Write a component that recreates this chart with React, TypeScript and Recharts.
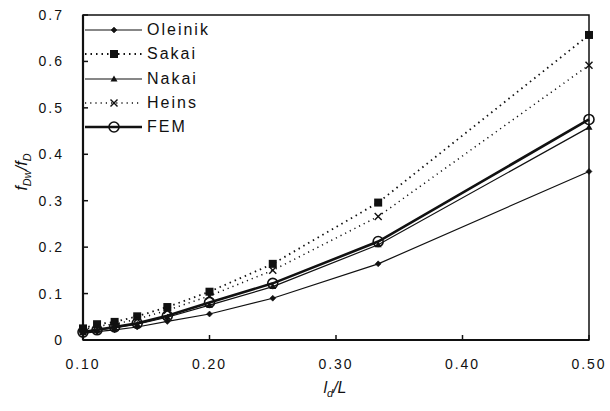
import React from 'react';
import { LineChart, Line, XAxis, YAxis, ReferenceArea, Legend } from 'recharts';

const ratios = [0.1, 1 / 9, 0.125, 1 / 7, 1 / 6, 0.2, 0.25, 1 / 3, 0.5];
const oleinik = [0.014, 0.018, 0.022, 0.028, 0.04, 0.056, 0.09, 0.164, 0.363];
const sakai = [0.025, 0.034, 0.039, 0.051, 0.071, 0.104, 0.164, 0.296, 0.657];
const nakai = [0.016, 0.021, 0.026, 0.034, 0.049, 0.075, 0.115, 0.205, 0.458];
const heins = [0.022, 0.03, 0.034, 0.045, 0.064, 0.095, 0.15, 0.266, 0.592];
const fem = [0.017, 0.022, 0.028, 0.036, 0.052, 0.081, 0.122, 0.212, 0.475];

const xTicks = [0.1, 0.2, 0.3, 0.4, 0.5];
const yTicks = [0, 0.1, 0.2, 0.3, 0.4, 0.5, 0.6, 0.7];

const data = ratios.map((x, i) => ({
  x,
  oleinik: oleinik[i],
  sakai: sakai[i],
  nakai: nakai[i],
  heins: heins[i],
  fem: fem[i],
}));

const INK = '#111';
const FONT = '"Liberation Sans", Arial, sans-serif';

type Shape = 'diamond' | 'square' | 'triangle' | 'cross' | 'circle';

function marker(shape: Shape, cx: number, cy: number, key?: string) {
  switch (shape) {
    case 'diamond':
      return <path key={key} d={`M${cx},${cy - 3} L${cx + 3},${cy} L${cx},${cy + 3} L${cx - 3},${cy} Z`} fill={INK} stroke={INK} strokeWidth={0.5} />;
    case 'square':
      return <rect key={key} x={cx - 4} y={cy - 4} width={8} height={8} fill={INK} />;
    case 'triangle':
      return <path key={key} d={`M${cx},${cy - 3.5} L${cx + 3.5},${cy + 2.5} L${cx - 3.5},${cy + 2.5} Z`} fill={INK} />;
    case 'cross':
      return (
        <g key={key}>
          <line x1={cx - 3.5} y1={cy - 3.5} x2={cx + 3.5} y2={cy + 3.5} stroke={INK} strokeWidth={1.4} />
          <line x1={cx - 3.5} y1={cy + 3.5} x2={cx + 3.5} y2={cy - 3.5} stroke={INK} strokeWidth={1.4} />
        </g>
      );
    case 'circle':
      return <circle key={key} cx={cx} cy={cy} r={5} fill="none" stroke={INK} strokeWidth={1.6} />;
  }
}

const series = [
  { key: 'oleinik', name: 'Oleinik', shape: 'diamond' as Shape, width: 1.2, dash: undefined as string | undefined },
  { key: 'sakai', name: 'Sakai', shape: 'square' as Shape, width: 1.8, dash: '1.5 4' },
  { key: 'nakai', name: 'Nakai', shape: 'triangle' as Shape, width: 1.2, dash: undefined },
  { key: 'heins', name: 'Heins', shape: 'cross' as Shape, width: 1.5, dash: '1.2 4' },
  { key: 'fem', name: 'FEM', shape: 'circle' as Shape, width: 2.6, dash: undefined },
];

const makeDot = (shape: Shape, name: string) => (props: any) => {
  const { cx, cy, index } = props;
  if (cx == null || cy == null) return <g key={`${name}-${index}`} />;
  return marker(shape, cx, cy, `${name}-${index}`);
};

const XTick = (props: any) => {
  const { x, y, payload } = props;
  const axisY = y - 8;
  return (
    <g>
      <line x1={x} y1={axisY} x2={x} y2={axisY - 5} stroke={INK} strokeWidth={1.5} />
      <text x={x} y={axisY + 29} textAnchor="middle" fontSize={14} letterSpacing={2} fill={INK} fontFamily={FONT}>
        {Number(payload.value).toFixed(2)}
      </text>
    </g>
  );
};

const YTick = (props: any) => {
  const { x, y, payload } = props;
  const axisX = x + 8;
  const v = Number(payload.value);
  return (
    <g>
      <line x1={axisX} y1={y} x2={axisX + 5} y2={y} stroke={INK} strokeWidth={1.5} />
      <text x={axisX - 19} y={y + 5} textAnchor="end" fontSize={14} letterSpacing={2} fill={INK} fontFamily={FONT}>
        {v === 0 ? '0' : v.toFixed(1)}
      </text>
    </g>
  );
};

const LegendContent = () => (
  <div style={{ fontFamily: FONT }}>
    {series.map((s) => (
      <div key={s.key} style={{ display: 'flex', alignItems: 'center', height: 24.3 }}>
        <svg width={58} height={20} style={{ display: 'block' }}>
          <line x1={0} y1={10} x2={57} y2={10} stroke={INK} strokeWidth={s.width} strokeDasharray={s.dash} />
          {marker(s.shape, 29, 10)}
        </svg>
        <span style={{ marginLeft: 4, fontSize: 16, letterSpacing: 2, color: INK, lineHeight: '20px' }}>{s.name}</span>
      </div>
    ))}
  </div>
);

const YLabel = () => (
  <text x={0} y={0} transform="translate(27,172) rotate(-90)" textAnchor="middle" fontSize={16} fontStyle="italic" fill={INK} fontFamily={FONT}>
    <tspan>f</tspan>
    <tspan fontSize={11} dy={4}>Dw</tspan>
    <tspan dy={-4}>/f</tspan>
    <tspan fontSize={11} dy={4}>D</tspan>
  </text>
);

const XLabel = () => (
  <text x={335} y={393} textAnchor="middle" fontSize={16} fontStyle="italic" fill={INK} fontFamily={FONT}>
    <tspan>l</tspan>
    <tspan fontSize={11} dy={4}>d</tspan>
    <tspan dy={-4}>/L</tspan>
  </text>
);

export default function App() {
  return (
    <div style={{ position: 'absolute', left: 0, top: 0, width: 610, height: 411, background: '#fff' }}>
      <LineChart width={610} height={411} data={data} margin={{ top: 15, right: 21, left: 0, bottom: 0 }}>
        <ReferenceArea x1={0.1} x2={0.5} y1={0} y2={0.7} fill="none" stroke={INK} strokeWidth={1.5} />
        <XAxis
          dataKey="x"
          type="number"
          domain={[0.1, 0.5]}
          ticks={xTicks}
          height={71}
          tickSize={0}
          tickMargin={8}
          tickLine={false}
          axisLine={{ stroke: INK, strokeWidth: 2.2 }}
          tick={<XTick />}
          interval={0}
          label={<XLabel />}
        />
        <YAxis
          type="number"
          domain={[0, 0.7]}
          ticks={yTicks}
          width={83}
          tickSize={0}
          tickMargin={8}
          tickLine={false}
          axisLine={{ stroke: INK, strokeWidth: 2.2 }}
          tick={<YTick />}
          interval={0}
          label={<YLabel />}
        />
        <Legend
          layout="vertical"
          align="center"
          verticalAlign="middle"
          content={<LegendContent />}
          wrapperStyle={{ left: 85, top: 18, width: 'auto' }}
        />
        {series.map((s) => (
          <Line
            key={s.key}
            dataKey={s.key}
            name={s.name}
            type="linear"
            stroke={INK}
            strokeWidth={s.width}
            strokeDasharray={s.dash}
            dot={makeDot(s.shape, s.key)}
            activeDot={false}
            isAnimationActive={false}
          />
        ))}
      </LineChart>
    </div>
  );
}
